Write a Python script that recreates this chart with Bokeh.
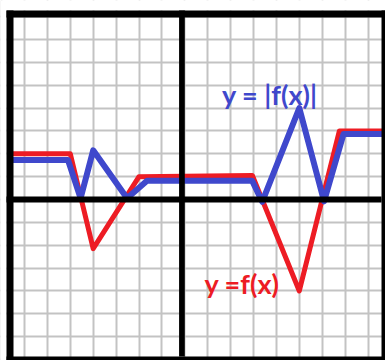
from bokeh.plotting import figure
from bokeh.models import Range1d, Grid, SingleIntervalTicker, Label, BoxAnnotation
from bokeh.embed import file_html
from bokeh.resources import INLINE

# ---- data (grid units) ----
red_x = [-7.7, -5.0, -4.0, -2.0, 2.95, 5.0, 6.75, 8.76]
red_y = [2.0, 2.0, -2.15, 1.0, 1.05, -4.0, 3.0, 3.0]

blue_x = [-7.7, -5.1, -4.55, -4.0, -2.52, -1.65, 2.94, 3.38, 5.0, 6.08, 6.93, 8.76]
blue_y = [1.73, 1.73, 0.05, 2.15, 0.05, 0.82, 0.82, -0.1, 4.0, -0.08, 2.86, 2.86]

label_abs = "y = |f(x)|"
label_f = "y =f(x)"

RED = "#ED1C24"
BLUE = "#3F48CC"

X_START, X_END = -8.048, 8.764
Y_START, Y_END = -7.043, 8.705

p = figure(width=385, height=360, output_backend="svg", toolbar_location=None,
           x_range=Range1d(X_START, X_END), y_range=Range1d(Y_START, Y_END),
           x_axis_location=None, y_axis_location=None, min_border=0,
           outline_line_color=None, background_fill_color="white",
           border_fill_color="white")

for dim in (0, 1):
    p.add_layout(Grid(dimension=dim, ticker=SingleIntervalTicker(interval=1),
                      grid_line_color="#c3c3c3", grid_line_width=2))

B_L, B_L2 = -7.786, -7.480
B_T, B_T2 = 8.268, 7.961
B_R = 8.590
B_B = -6.868

# white margin outside the frame (no grid there)
for l, r, b, t in [(X_START, X_END, B_T, Y_END), (X_START, B_L, Y_START, Y_END)]:
    p.add_layout(BoxAnnotation(left=l, right=r, bottom=b, top=t,
                               fill_color="white", fill_alpha=1.0, line_color=None))

# frame borders and the two main axes (black bands)
bands = [(B_L, X_END, B_T2, B_T),        # top border
         (B_L, B_L2, Y_START, B_T),      # left border
         (B_R, X_END, Y_START, B_T),     # right border
         (B_L, X_END, Y_START, B_B),     # bottom border
         (B_L, B_R, -0.131, 0.131),      # x axis
         (-0.25, 0.0, B_B, B_T)]         # y axis
for l, r, b, t in bands:
    p.add_layout(BoxAnnotation(left=l, right=r, bottom=b, top=t,
                               fill_color="black", fill_alpha=1.0,
                               line_color=None))

p.line(red_x, red_y, line_color=RED, line_width=5, line_join="round")
p.line(blue_x, blue_y, line_color=BLUE, line_width=6, line_join="round")

p.add_layout(Label(x=1.62, y=4.59, text=label_abs, text_color=BLUE,
                   text_font="Lato", text_font_style="bold", text_font_size="27px",
                   text_baseline="alphabetic"))
p.add_layout(Label(x=0.86, y=-3.69, text=label_f, text_color=RED,
                   text_font="Lato", text_font_style="bold", text_font_size="27px",
                   text_baseline="alphabetic"))

open("out.html", "w").write(file_html(p, INLINE))
